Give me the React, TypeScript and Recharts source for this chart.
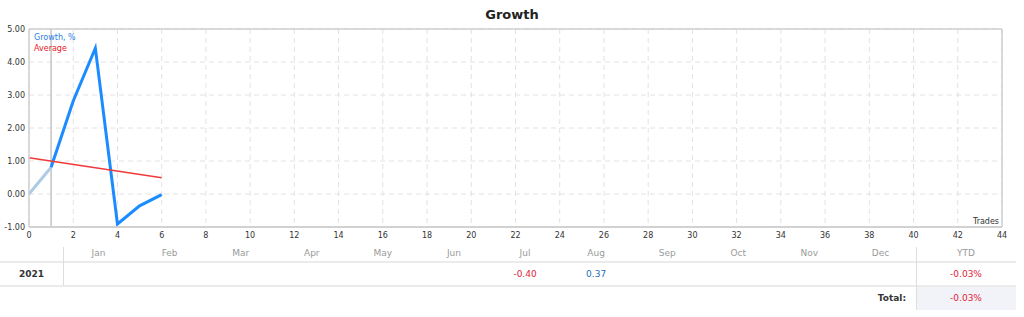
import React from 'react';
import { LineChart, Line, XAxis, YAxis, CartesianGrid, ReferenceLine } from 'recharts';

const trades = [0, 1, 2, 3, 4, 5, 6];
const growthStart = [0, 0.81, null, null, null, null, null];
const growth = [null, 0.81, 2.82, 4.42, -0.91, -0.36, -0.02];
const average = [1.1, null, null, null, null, null, 0.49];
const xTicks = [0, 2, 4, 6, 8, 10, 12, 14, 16, 18, 20, 22, 24, 26, 28, 30, 32, 34, 36, 38, 40, 42, 44];
const yTicks = [-1, 0, 1, 2, 3, 4, 5];

const months = ['Jan', 'Feb', 'Mar', 'Apr', 'May', 'Jun', 'Jul', 'Aug', 'Sep', 'Oct', 'Nov', 'Dec'];
const year = '2021';
const monthValues: (number | null)[] = [null, null, null, null, null, null, -0.40, 0.37, null, null, null, null];
const ytd = '-0.03%';
const total = '-0.03%';

const data = trades.map((t, i) => ({ x: t, g0: growthStart[i], g: growth[i], avg: average[i] }));

const FONT = 'Tahoma, "DejaVu Sans", sans-serif';
const RED = '#e0253a';
const BLUE = '#2a6fb5';

export default function App() {
  const colW = (916 - 63) / 12;
  const cell: React.CSSProperties = { position: 'absolute', textAlign: 'center' };
  return (
    <div style={{ position: 'absolute', left: 0, top: 0, width: 1024, height: 317, background: '#fff', fontFamily: FONT }}>
      <div style={{ position: 'absolute', left: 0, top: 7, width: 1024, textAlign: 'center', fontSize: 13, fontWeight: 'bold', color: '#222' }}>Growth</div>
      <div style={{ position: 'absolute', left: 0, top: 0 }}>
        <LineChart width={1024} height={245} data={data} margin={{ top: 29, right: 22, left: 0, bottom: 0 }}>
          <CartesianGrid stroke="#e2e2e2" strokeDasharray="5 4" />
          <XAxis dataKey="x" type="number" domain={[0, 44]} ticks={xTicks} interval={0} height={18}
            tickLine={false} tickSize={0} tickMargin={5} axisLine={{ stroke: '#cfcfcf', strokeWidth: 1.5 }}
            tick={{ fontSize: 8, fill: '#333', fontFamily: FONT }} />
          <YAxis type="number" domain={[-1, 5]} ticks={yTicks} interval={0} width={29}
            tickLine={false} tickSize={0} tickMargin={4} axisLine={{ stroke: '#cfcfcf', strokeWidth: 1.5 }}
            tickFormatter={(v: number) => v.toFixed(2)}
            tick={{ fontSize: 8, fill: '#333', fontFamily: FONT }} />
          <ReferenceLine y={5} stroke="#cfcfcf" strokeWidth={1.5} />
          <ReferenceLine x={44} stroke="#cfcfcf" strokeWidth={1.5} />
          <ReferenceLine x={1} stroke="#c4c4c4" strokeWidth={1.5} />
          <ReferenceLine y={-1} stroke="#cfcfcf" strokeWidth={1.5}
            label={{ value: 'Trades', position: 'insideBottomRight', offset: 3, fontSize: 8, fill: '#333', fontFamily: FONT }} />
          <Line dataKey="g0" stroke="#aecbe6" strokeWidth={3} dot={false} isAnimationActive={false} connectNulls={false} />
          <Line dataKey="g" stroke="#1a8cff" strokeWidth={3} dot={false} isAnimationActive={false} connectNulls={false} />
          <Line dataKey="avg" stroke="#f03a3a" strokeWidth={1.5} dot={false} isAnimationActive={false} connectNulls />
        </LineChart>
      </div>
      <div style={{ position: 'absolute', left: 34, top: 32, fontSize: 8, lineHeight: '11px' }}>
        <div style={{ color: '#2b7de0' }}>Growth, %</div>
        <div style={{ color: '#e8202a' }}>Average</div>
      </div>
      <div style={{ position: 'absolute', left: 0, top: 244, width: 1016, height: 70, fontSize: 9 }}>
        {months.map((m, i) => (
          <div key={m} style={{ ...cell, left: 63 + i * colW, width: colW, top: 4, color: '#9a9a9a' }}>{m}</div>
        ))}
        <div style={{ ...cell, left: 916, width: 100, top: 4, color: '#9a9a9a' }}>YTD</div>
        <div style={{ position: 'absolute', left: 0, top: 17, width: 1016, height: 2, background: '#ebebeb' }} />
        <div style={{ ...cell, left: 0, width: 63, top: 25, color: '#333', fontWeight: 'bold' }}>{year}</div>
        {monthValues.map((v, i) => v === null ? null : (
          <div key={i} style={{ ...cell, left: 63 + i * colW, width: colW, top: 25, color: v < 0 ? RED : BLUE }}>{v.toFixed(2)}</div>
        ))}
        <div style={{ ...cell, left: 916, width: 100, top: 25, color: RED }}>{ytd}</div>
        <div style={{ position: 'absolute', left: 0, top: 41, width: 1016, height: 2, background: '#ebebeb' }} />
        <div style={{ position: 'absolute', left: 916, top: 43, width: 100, height: 23, background: '#f2f3f9' }} />
        <div style={{ position: 'absolute', left: 700, top: 49, width: 206, textAlign: 'right', color: '#333', fontWeight: 'bold' }}>Total:</div>
        <div style={{ ...cell, left: 916, width: 100, top: 49, color: RED }}>{total}</div>
        <div style={{ position: 'absolute', left: 63, top: 3, width: 1, height: 38, background: '#dedede' }} />
        <div style={{ position: 'absolute', left: 916, top: 3, width: 1, height: 63, background: '#dedede' }} />
      </div>
    </div>
  );
}
